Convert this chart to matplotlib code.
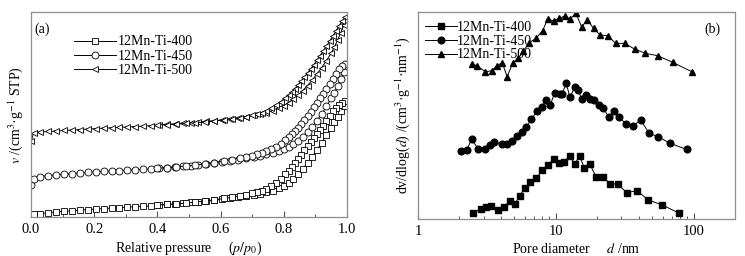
import numpy as np
import matplotlib
matplotlib.use("Agg")
import matplotlib.pyplot as plt
from matplotlib.ticker import MultipleLocator, LogLocator, NullFormatter, FixedLocator, FixedFormatter

plt.rcParams['font.family'] = ['Liberation Serif', 'DejaVu Serif']
plt.rcParams['mathtext.fontset'] = 'stix'

# ---- panel (a): N2 isotherms (arbitrary offset units) ----
ads_p = [0.001, 0.008, 0.03, 0.055, 0.08, 0.105, 0.13, 0.155, 0.18, 0.205, 0.23, 0.255, 0.28,
         0.305, 0.33, 0.355, 0.38, 0.405, 0.43, 0.455, 0.48, 0.505, 0.53, 0.555, 0.58, 0.605,
         0.63, 0.655, 0.68, 0.705, 0.725, 0.745, 0.765, 0.785, 0.80, 0.815, 0.83, 0.845, 0.86,
         0.875, 0.89, 0.905, 0.92, 0.935, 0.95, 0.96, 0.97, 0.98, 0.99]
ads_400 = [2.0, 2.7, 3.5, 4.5, 5.2, 5.8, 6.3, 6.9, 7.5, 8.1, 8.5, 9.0, 9.4, 9.9, 10.3, 10.7, 11.2,
           12.0, 12.6, 13.2, 13.9, 14.6, 15.3, 16.0, 16.8, 17.7, 18.7, 19.8, 21.0, 22.3, 23.5,
           24.8, 26.5, 28.8, 31, 34, 38.5, 43, 48, 54.5, 60.5, 67, 74.5, 82, 89.5, 95, 100.5, 106, 111]
ads_450 = [32, 38.5, 40.5, 41.5, 42.3, 42.9, 43.4, 44.0, 44.6, 45.3, 45.7, 46.1, 46.5, 46.9, 47.3,
           47.7, 48.2, 48.8, 49.4, 50.0, 50.7, 51.4, 52.2, 53.1, 54.0, 55.0, 56.2, 57.5, 58.9, 60.3,
           61.5, 62.7, 64.0, 66.0, 68, 70, 73, 76.5, 80.5, 85, 90.5, 96.5, 103, 111, 119, 124.5,
           131, 138, 145]
ads_500 = [76, 84.3, 85, 85.6, 86.1, 86.6, 87.0, 87.5, 88.0, 88.5, 88.9, 89.3, 89.7, 90.1, 90.5,
           90.9, 91.4, 92.0, 92.6, 93.2, 93.8, 94.4, 95.0, 95.7, 96.4, 97.2, 98.0, 99.0, 100.2,
           101.6, 103, 104.5, 106.5, 109, 111.5, 114.5, 118, 122, 126.5, 131.5, 137, 143, 149.5,
           156.5, 164, 170, 177, 184, 192]

des_p = [0.995, 0.985, 0.975, 0.965, 0.955, 0.945, 0.935, 0.925, 0.915, 0.905, 0.895, 0.885,
         0.875, 0.865, 0.855, 0.845, 0.835, 0.825, 0.815, 0.805, 0.79, 0.775, 0.76, 0.745, 0.73,
         0.715, 0.70, 0.68, 0.66, 0.635, 0.61, 0.58, 0.55, 0.52, 0.49, 0.46, 0.43, 0.40]
des_400 = [116, 114, 112, 109.5, 106, 101, 96, 91, 87, 83, 79, 75, 71, 67, 62.5, 58, 54, 50, 46.5,
           43, 38.5, 34.5, 31, 28.5, 26.5, 25, 23.8, 22.5, 21.2, 19.8, 18.6, 17.3, 16.1, 15.0,
           14.0, 13.2, 12.6, 12.0]
des_450 = [153, 151, 148, 143, 138, 133, 128, 123.5, 119, 114.5, 110, 105.5, 101, 97, 93, 89.5,
           86, 83, 80, 77, 73.5, 70.5, 68, 66, 64.3, 62.8, 61.5, 60.2, 59, 57.5, 56, 54.5, 53.2,
           52, 51, 50.2, 49.5, 48.8]
des_500 = [200, 196, 191.5, 186, 181, 176, 171, 166, 161.5, 157, 152.5, 148, 144, 140, 136, 132,
           128.5, 125, 122, 119, 115.5, 112, 109, 106.5, 104.5, 103, 101.8, 100.5, 99.2, 98, 97,
           96, 95, 94.3, 93.6, 93, 92.5, 92]

# ---- panel (b): pore size distributions (arbitrary offset units) ----
d_400 = [2.52, 2.85, 3.10, 3.37, 3.78, 4.23, 4.64, 5.04, 5.48, 5.96, 6.55, 7.23, 7.99, 8.78, 9.65,
         10.5, 11.5, 12.6, 13.7, 14.9, 16.1, 17.7, 19.6, 21.9, 24.9, 28.1, 32.8, 38.7, 47.1, 58.7, 79]
psd_400 = [5.7, 10, 12.3, 13.3, 9, 12.3, 18, 14.7, 23.3, 31.3, 36.7, 40.7, 49, 54, 59.7, 56.3, 57.3,
           63.3, 55, 63, 51.3, 54.7, 42.3, 42.3, 35, 35, 26.3, 28.3, 19, 14.3, 5.7]
d_450 = [2.06, 2.26, 2.45, 2.74, 3.06, 3.33, 3.58, 4.04, 4.46, 4.83, 5.27, 5.70, 6.12, 6.65, 7.31,
         7.94, 8.44, 9.12, 9.80, 10.65, 11.1, 11.9, 12.7, 13.7, 14.5, 15.5, 16.6, 17.7, 19.1, 20.7,
         22.1, 24.2, 26.6, 28.9, 32.3, 36.5, 41.4, 47.6, 55.6, 67.4, 89.0]
psd_450 = [68.3, 69, 79.7, 70, 70, 74, 77.3, 74.7, 75, 78.3, 83, 87.3, 91.7, 99.7, 108, 111.7, 119,
           114, 125.7, 125, 125, 135.7, 121.7, 131.7, 129, 119.7, 124, 120, 119, 114, 110.7, 102.3,
           108, 102.3, 94.7, 93, 99, 85.7, 82.3, 75.7, 69.7]
d_500 = [2.47, 2.68, 3.08, 3.44, 3.74, 4.09, 4.44, 4.88, 5.36, 5.82, 6.43, 7.19, 8.03, 8.73, 9.65,
         10.6, 11.6, 12.7, 14.0, 15.4, 17.0, 18.8, 21.0, 23.9, 27.2, 31.6, 37.3, 44.8, 55.0, 70.5, 97.2]
psd_500 = [155, 153.3, 147.3, 148.3, 153.3, 156.3, 142.3, 156.3, 160.7, 168, 176.3, 180.7, 188.3,
           200, 198, 200.7, 203, 200, 205.7, 192.3, 199, 190.7, 184, 183.3, 175.7, 175.7, 170,
           165.7, 163.3, 156.7, 147.3]

labels = ['12Mn-Ti-400', '12Mn-Ti-450', '12Mn-Ti-500']

fig = plt.figure(figsize=(7.45, 2.56), dpi=100)
axa = fig.add_axes([0.0416, 0.152, 0.4242, 0.801])
axb = fig.add_axes([0.561, 0.1445, 0.4256, 0.8085])

spine_col = '#8c8c8c'
line_kw = dict(color='black', lw=0.7)

# panel (a)
mk_a = ['s', 'o', '<']
for m, lab, ya, yd in zip(mk_a, labels, [ads_400, ads_450, ads_500], [des_400, des_450, des_500]):
    axa.plot(ads_p, ya, marker=m, ms=5, mfc='white', mec='black', mew=0.6, label=lab, **line_kw)
    axa.plot(des_p, yd, marker=m, ms=5, mfc='white', mec='black', mew=0.6, **line_kw)
axa.set_xlim(0, 1.0)
axa.set_ylim(0, 205)
axa.xaxis.set_major_locator(MultipleLocator(0.2))
axa.xaxis.set_minor_locator(MultipleLocator(0.1))
axa.xaxis.set_major_formatter(matplotlib.ticker.FormatStrFormatter('%.1f'))
axa.set_yticks([])
axa.set_xlabel(r'Relative pressure     ($p/p_0$)', fontsize=10, labelpad=3)
axa.set_ylabel(r'$v$ /(cm$^3$·g$^{-1}$ STP)', fontsize=10, labelpad=4)
axa.text(0.012, 0.95, '(a)', transform=axa.transAxes, fontsize=10, va='top')
axa.legend(loc='upper left', bbox_to_anchor=(0.115, 0.92), frameon=False, fontsize=10,
           handlelength=3.0, handletextpad=0.1, labelspacing=0.1, borderpad=0)

# panel (b)
mk_b = ['s', 'o', '^']
for m, lab, d, y in zip(mk_b, labels, [d_400, d_450, d_500], [psd_400, psd_450, psd_500]):
    axb.plot(d, y, marker=m, ms=4.8, mfc='black', mec='black', label=lab, **line_kw)
axb.set_xscale('log')
axb.set_xlim(1, 200)
axb.set_ylim(0, 207)
axb.xaxis.set_major_locator(FixedLocator([1, 10, 100]))
axb.xaxis.set_major_formatter(FixedFormatter(['1', '10', '100']))
axb.xaxis.set_minor_locator(LogLocator(base=10, subs=np.arange(2, 10)))
axb.xaxis.set_minor_formatter(NullFormatter())
axb.set_yticks([])
axb.set_xlabel(r'Pore diameter     $d$ /nm', fontsize=10, labelpad=3)
axb.set_ylabel(r'dv/dlog($d$) /(cm$^3$·g$^{-1}$·nm$^{-1}$)', fontsize=10, labelpad=4)
axb.text(0.955, 0.95, '(b)', transform=axb.transAxes, fontsize=10, va='top', ha='right')
axb.legend(loc='upper left', bbox_to_anchor=(0.0, 0.99), frameon=False, fontsize=10,
           handlelength=2.3, handletextpad=0.0, labelspacing=0.05, borderpad=0)

for ax in (axa, axb):
    for s in ax.spines.values():
        s.set_color(spine_col)
        s.set_linewidth(0.9)
    ax.tick_params(axis='x', which='major', direction='in', length=4, width=0.8,
                   color='#555555', labelsize=10.5, pad=4)
    ax.tick_params(axis='x', which='minor', direction='in', length=2.5, width=0.7, color='#555555')

fig.savefig('out.png', dpi=100)
